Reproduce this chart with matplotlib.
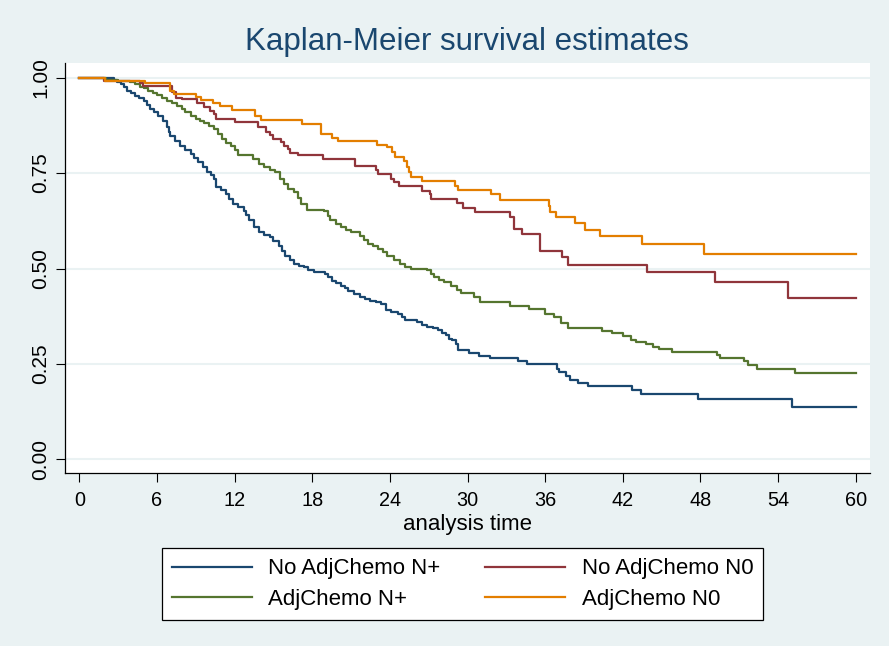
import matplotlib
matplotlib.use('Agg')
import matplotlib.pyplot as plt
from matplotlib.lines import Line2D

# Kaplan-Meier step points (time, survival after the drop)
t_noadj_np = [0, 2.65, 2.9, 3.2, 3.45, 3.7, 4.0, 4.3, 4.65, 5.0, 5.25, 5.5, 5.8, 6.1, 6.45, 6.8, 6.9,
              7.0, 7.4, 7.8, 8.2, 8.6, 8.9, 9.2, 9.55, 9.9, 10.15, 10.4, 10.6, 10.95, 11.3, 11.6,
              11.9, 12.3, 12.7, 12.9, 13.1, 13.5, 13.9, 14.3, 14.7, 15.0, 15.4, 15.65, 15.9, 16.25,
              16.6, 17.0, 17.35, 17.7, 18.1, 19.0, 19.25, 19.5, 19.85, 20.2, 20.5, 20.8, 21.2, 21.7,
              22.1, 22.5, 22.9, 23.3, 23.7, 24.1, 24.6, 24.9, 25.2, 26.1, 26.5, 26.9, 27.3, 27.7,
              28.0, 28.3, 28.55, 28.8, 29.1, 29.3, 30.1, 30.9, 31.7, 33.9, 34.6, 36.9, 37.1, 37.6,
              37.9, 38.5, 39.3, 42.7, 43.4, 47.8, 55.1]
s_noadj_np = [1.0, 0.995, 0.990, 0.983, 0.975, 0.966, 0.960, 0.953, 0.947, 0.940, 0.929, 0.918, 0.910,
              0.901, 0.886, 0.870, 0.859, 0.848, 0.835, 0.822, 0.811, 0.800, 0.790, 0.779, 0.766,
              0.753, 0.744, 0.735, 0.713, 0.705, 0.696, 0.683, 0.669, 0.661, 0.652, 0.639, 0.626,
              0.610, 0.595, 0.588, 0.582, 0.572, 0.560, 0.547, 0.534, 0.523, 0.512, 0.507, 0.503,
              0.496, 0.490, 0.486, 0.477, 0.468, 0.461, 0.455, 0.448, 0.442, 0.434, 0.425, 0.420,
              0.416, 0.412, 0.408, 0.392, 0.387, 0.381, 0.372, 0.364, 0.359, 0.353, 0.348, 0.343,
              0.338, 0.331, 0.325, 0.316, 0.312, 0.301, 0.287, 0.279, 0.270, 0.265, 0.257, 0.250,
              0.237, 0.229, 0.218, 0.209, 0.201, 0.191, 0.181, 0.172, 0.157, 0.137]

t_noadj_n0 = [0, 1.9, 4.7, 4.9, 7.2, 7.45, 7.9, 9.1, 9.6, 10.1, 10.4, 10.6, 12.0, 13.8, 14.4, 14.7,
              15.0, 15.6, 15.8, 16.1, 16.3, 16.9, 18.8, 21.3, 22.9, 23.1, 24.1, 24.3, 24.7, 26.5,
              27.1, 27.2, 29.2, 29.65, 30.6, 33.3, 33.6, 34.2, 35.6, 37.3, 37.8, 43.9, 49.1, 54.8]
s_noadj_n0 = [1.0, 0.992, 0.986, 0.979, 0.962, 0.948, 0.944, 0.934, 0.922, 0.914, 0.905, 0.893,
              0.883, 0.870, 0.857, 0.850, 0.839, 0.831, 0.822, 0.813, 0.804, 0.797, 0.787, 0.768,
              0.757, 0.748, 0.735, 0.726, 0.715, 0.704, 0.694, 0.681, 0.671, 0.659, 0.647, 0.634,
              0.604, 0.591, 0.545, 0.530, 0.510, 0.490, 0.464, 0.422]

t_adj_np = [0, 2.1, 3.0, 3.9, 4.3, 4.7, 5.0, 5.3, 5.7, 6.0, 6.4, 6.8, 7.2, 7.55, 7.9, 8.2, 8.6, 9.0,
            9.3, 9.6, 10.0, 10.4, 10.7, 11.0, 11.35, 11.7, 12.0, 12.3, 13.4, 13.9, 14.3, 14.7, 15.1,
            15.5, 15.8, 16.1, 16.6, 16.9, 17.1, 17.6, 18.9, 19.2, 19.4, 19.8, 20.2, 20.6, 21.0,
            21.7, 22.0, 22.3, 22.7, 23.1, 23.5, 23.8, 24.3, 24.8, 25.2, 25.6, 26.9, 27.2, 27.4,
            27.8, 28.2, 28.7, 29.2, 29.5, 30.5, 31.0, 33.3, 34.75, 36.0, 36.7, 37.2, 37.8, 40.4,
            41.2, 42.0, 42.6, 43.0, 43.8, 44.3, 44.8, 45.8, 49.3, 49.5, 51.4, 51.7, 52.4, 55.3]
s_adj_np = [1.0, 0.995, 0.992, 0.988, 0.983, 0.977, 0.972, 0.966, 0.960, 0.955, 0.948, 0.940, 0.933,
            0.927, 0.918, 0.909, 0.901, 0.893, 0.887, 0.881, 0.874, 0.866, 0.852, 0.839, 0.830,
            0.822, 0.810, 0.797, 0.786, 0.774, 0.767, 0.759, 0.752, 0.735, 0.722, 0.709, 0.700,
            0.685, 0.669, 0.654, 0.650, 0.638, 0.627, 0.617, 0.608, 0.601, 0.595, 0.586, 0.575,
            0.565, 0.558, 0.552, 0.543, 0.534, 0.523, 0.512, 0.505, 0.499, 0.495, 0.486, 0.477,
            0.470, 0.464, 0.453, 0.444, 0.436, 0.425, 0.412, 0.401, 0.393, 0.381, 0.373, 0.357,
            0.344, 0.335, 0.331, 0.323, 0.312, 0.307, 0.301, 0.294, 0.288, 0.281, 0.274, 0.265,
            0.257, 0.248, 0.237, 0.227]

t_adj_n0 = [0, 2.0, 5.1, 7.0, 7.3, 9.05, 9.4, 10.3, 10.9, 11.8, 13.6, 14.05, 17.2, 18.7, 19.5, 20.0,
            23.0, 23.8, 24.2, 24.4, 25.1, 25.3, 25.5, 25.6, 26.5, 29.0, 29.3, 31.8, 32.5, 36.3,
            36.4, 36.8, 38.3, 39.1, 40.2, 43.5, 48.3]
s_adj_n0 = [1.0, 0.992, 0.986, 0.966, 0.957, 0.949, 0.942, 0.934, 0.925, 0.916, 0.900, 0.889, 0.880,
            0.853, 0.842, 0.833, 0.825, 0.818, 0.805, 0.793, 0.783, 0.765, 0.752, 0.741, 0.730,
            0.717, 0.707, 0.695, 0.680, 0.665, 0.649, 0.636, 0.620, 0.602, 0.585, 0.563, 0.538]

t_end = 60
labels = ['No AdjChemo N+', 'AdjChemo N+', 'No AdjChemo N0', 'AdjChemo N0']
x_ticks = [0, 6, 12, 18, 24, 30, 36, 42, 48, 54, 60]
y_ticks = [0.0, 0.25, 0.5, 0.75, 1.0]

# Stata s2color palette
navy = '#1a476f'
maroon = '#90353b'
green = '#55752f'
orange = '#e37e00'
bg = '#eaf2f3'

plt.rcParams['font.family'] = ['Liberation Sans', 'DejaVu Sans']

fig = plt.figure(figsize=(8.89, 6.46), dpi=100, facecolor=bg)
ax = fig.add_axes([0.0731, 0.2673, 0.9055, 0.6356])
ax.set_facecolor('white')

series = [(t_noadj_np, s_noadj_np, navy),
          (t_adj_np, s_adj_np, green),
          (t_noadj_n0, s_noadj_n0, maroon),
          (t_adj_n0, s_adj_n0, orange)]
for tt, ss, col in series:
    ax.step(tt + [t_end], ss + [ss[-1]], where='post', color=col, lw=1.6, zorder=3)

ax.set_xlim(-1.105, 61.1)
ax.set_ylim(-0.0367, 1.0393)
ax.set_xticks(x_ticks)
ax.set_xticklabels([str(v) for v in x_ticks], fontsize=14.3)
ax.set_yticks(y_ticks)
ax.set_yticklabels(['%.2f' % v for v in y_ticks], fontsize=15, rotation=90, va='center')
ax.tick_params(direction='out', length=6.5, width=0.8, color='black')
ax.tick_params(axis='x', pad=6)
ax.tick_params(axis='y', pad=4)
ax.grid(axis='y', color=bg, lw=1.5, zorder=0)
ax.grid(axis='x', visible=False)
for side in ['top', 'right']:
    ax.spines[side].set_visible(False)
for side in ['left', 'bottom']:
    ax.spines[side].set_linewidth(0.9)
    ax.spines[side].set_color('black')

ax.set_xlabel('analysis time', fontsize=16, labelpad=3)
fig.suptitle('Kaplan-Meier survival estimates', fontsize=22.5, color=navy, x=0.525, y=0.935,
             va='center')

handles = [Line2D([], [], color=c, lw=1.6) for c in [navy, green, maroon, orange]]
leg = fig.legend(handles, labels, ncol=2, loc='center',
                 bbox_to_anchor=(0.5203, 0.096), fontsize=16,
                 frameon=True, fancybox=False, edgecolor='black', facecolor='white',
                 framealpha=1, handlelength=3.6, handletextpad=0.75, labelspacing=0.42,
                 borderpad=0.45, columnspacing=2.0)
leg.get_frame().set_linewidth(0.9)

fig.savefig('out.png', dpi=100, facecolor=bg)
